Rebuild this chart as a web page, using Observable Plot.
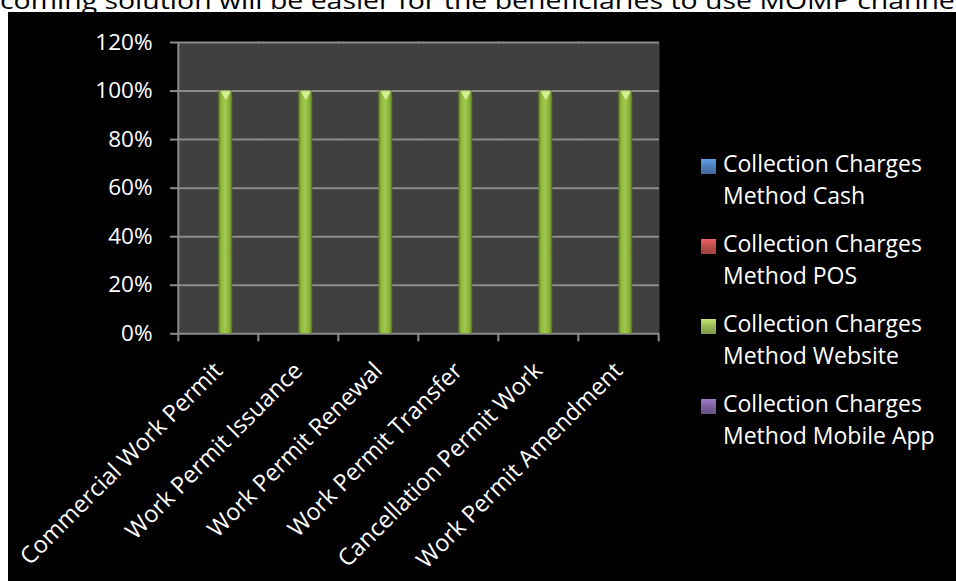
<!DOCTYPE html>
<html>
<head>
<meta charset="utf-8">
<script src="https://cdn.jsdelivr.net/npm/d3@7"></script>
<script src="https://cdn.jsdelivr.net/npm/@observablehq/plot@0.6"></script>
<style>
  html, body { margin: 0; padding: 0; background: #fff; width: 956px; height: 581px; overflow: hidden; }
  body { position: relative; font-family: "Open Sans", "Noto Sans", sans-serif; }
  #topText { position: absolute; left: 0; top: 0; width: 956px; height: 12px; overflow: visible; z-index: 0; }
  #box { position: absolute; left: 8px; top: 12px; width: 948px; height: 569px; background: #000; z-index: 1; overflow: hidden; }
  #legend { position: absolute; left: 693px; top: 135px; color: #fff; font-size: 23px; line-height: 32px; }
  .item { position: relative; padding-left: 22px; margin-bottom: 16px; }
  .sw { position: absolute; left: 0; top: 12px; width: 15px; height: 15px; }
</style>
</head>
<body>
<svg id="topText" width="956" height="12"><text x="0" y="8.5" font-size="24" fill="#000" font-family="'Open Sans', sans-serif" textLength="962" lengthAdjust="spacingAndGlyphs">coming solution will be easier for the beneficiaries to use MOMP channel</text></svg>
<div id="box"><div id="legend"></div></div>
<script>
// ---- data ----
const categories = ["Commercial Work Permit", "Work Permit Issuance", "Work Permit Renewal", "Work Permit Transfer", "Cancellation Permit Work", "Work Permit Amendment"];
const seriesNames = ["Collection Charges Method Cash", "Collection Charges Method POS", "Collection Charges Method Website", "Collection Charges Method Mobile App"];
const cashValues = [0, 0, 0, 0, 0, 0];
const posValues = [0, 0, 0, 0, 0, 0];
const websiteValues = [1, 1, 1, 1, 1, 1];
const mobileAppValues = [0, 0, 0, 0, 0, 0];
const yTicks = [0, 0.2, 0.4, 0.6, 0.8, 1.0, 1.2];
const seriesColors = ["#4F81BD", "#C0504D", "#9BBB59", "#8064A2"];

const seriesValues = [cashValues, posValues, websiteValues, mobileAppValues];
const data = [];
seriesNames.forEach((s, si) => categories.forEach((c, ci) => data.push({category: c, series: s, value: seriesValues[si][ci]})));

// ---- layout ----
const W = 948, H = 569;
const mL = 168.7, mR = 297.3, mT = 30, mB = 247.7;
const bandW = (W - mL - mR) / categories.length;
const yMax = d3.max(yTicks);
const unitsPerPx = yMax / (H - mT - mB);
const tickLen = 8;
const grid = "#8c8c8c";
const font = "'Open Sans', 'Noto Sans', sans-serif";

const gradIds = seriesNames.map((_, i) => "grad" + i);

const chart = Plot.plot({
  width: W, height: H,
  marginLeft: mL, marginRight: mR, marginTop: mT, marginBottom: mB,
  style: {background: "transparent", color: "#fff", fontFamily: font, fontSize: "22.5px", overflow: "visible"},
  fx: {domain: categories, paddingInner: 0, paddingOuter: 0, label: null},
  x: {domain: seriesNames, paddingInner: 0, paddingOuter: 0.678, axis: null},
  y: {domain: [0, yMax], axis: null},
  color: {domain: seriesNames, range: gradIds.map(id => `url(#${id})`)},
  marks: [
    Plot.frame({fill: "#404040", stroke: null, insetRight: -1}),
    Plot.ruleY(yTicks, {stroke: grid, strokeWidth: 2, insetRight: -1}),
    Plot.axisY({ticks: yTicks, tickFormat: d3.format(".0%"), tickSize: tickLen, tickPadding: 18, stroke: grid, strokeWidth: 2, strokeOpacity: 1, fill: "#fff", fontSize: 22.5, label: null}),
    Plot.barY(data, {fx: "category", x: "series", y: "value", fill: "series"}),
    Plot.dot(data.filter(d => d.value > 0), {fx: "category", x: "series", y: "value", symbol: "triangle", rotate: 180, r: 3.8, fill: "#d4ec92", stroke: null, dy: 3.2}),
    Plot.ruleX(categories, {fx: d => d, x: null, y1: 0, y2: -tickLen * unitsPerPx, dx: -bandW / 2, stroke: grid, strokeWidth: 2}),
    Plot.ruleX([categories[categories.length - 1]], {fx: d => d, x: null, y1: 0, y2: -tickLen * unitsPerPx, dx: bandW / 2, stroke: grid, strokeWidth: 2}),
    Plot.ruleX([categories[0]], {fx: d => d, x: null, y1: yMax, y2: 0, dx: -bandW / 2, stroke: grid, strokeWidth: 2}),
    Plot.axisFx({anchor: "bottom", tickRotate: -45, tickSize: 0, tickPadding: 33, fill: "#fff", fontSize: 23.5, label: null})
  ]
});

// gradients for the bevelled bars
const svg = d3.select(chart.tagName.toLowerCase() === "svg" ? chart : chart.querySelector("svg"));
const defs = svg.insert("defs", ":first-child");
const stopsFor = (c, i) => {
  if (i === 2) return [["0%", "#587624"], ["22%", "#92bc40"], ["50%", "#a0c94c"], ["80%", "#88ae3a"], ["100%", "#4f6b20"]];
  const b = d3.color(c);
  return [["0%", b.darker(1)], ["22%", b.brighter(0.1)], ["50%", b.brighter(0.2)], ["80%", b.darker(0.2)], ["100%", b.darker(1.1)]];
};
seriesColors.forEach((c, i) => {
  const g = defs.append("linearGradient").attr("id", gradIds[i]).attr("x1", "0").attr("x2", "1").attr("y1", "0").attr("y2", "0");
  stopsFor(c, i).forEach(([o, col]) => g.append("stop").attr("offset", o).attr("stop-color", col));
});

document.getElementById("box").prepend(chart);

// legend
const legend = d3.select("#legend");
seriesNames.forEach((s, i) => {
  const words = s.split(" ");
  const line1 = words.slice(0, 2).join(" ");
  const line2 = words.slice(2).join(" ");
  const base = d3.color(seriesColors[i]);
  const it = legend.append("div").attr("class", "item");
  it.append("div").attr("class", "sw")
    .style("background", `linear-gradient(to bottom, ${base.brighter(0.6)} 0%, ${base} 45%, ${base.darker(0.6)} 100%)`);
  it.append("div").text(line1);
  it.append("div").text(line2);
});
</script>
</body>
</html>
